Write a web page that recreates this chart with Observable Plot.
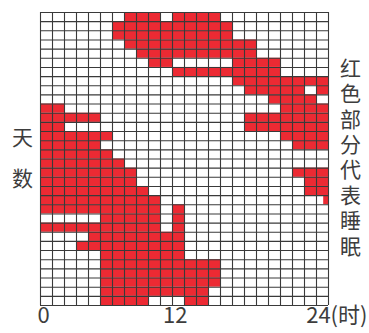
<!DOCTYPE html>
<html><head><meta charset="utf-8">
<script src="https://cdn.jsdelivr.net/npm/d3@7"></script>
<script src="https://cdn.jsdelivr.net/npm/@observablehq/plot@0.6"></script>
<style>body{margin:0;background:#fff;}</style>
</head><body><div id="chart"></div>
<script>
// Sleep segments: day (row), start hour, end hour
const segDay   = [0,0, 1, 2, 3, 4, 5,5, 6, 7, 8,8, 9, 10,10, 11,11, 12,12, 13,13, 14,14, 15, 16, 17,17, 18,18, 19,19, 20,20, 21,21, 22,22, 23,23, 24, 25, 26, 27, 28, 29, 30, 31,31];
const segStart = [7,11, 6, 6, 7, 8, 9,16, 11,16,17,23, 19, 0,20, 0,17, 0,17, 0,20, 0,21, 0, 0, 0,21, 0,22, 0,22, 0,23.6, 0,11, 5,11, 0,11, 4, 3, 5, 5, 5, 5, 5, 5,12];
const segEnd   = [10,15, 16, 16, 18, 18, 11,20, 20,24,22,24, 23, 2,24, 5,24, 2,24, 6,24, 5,24, 6, 7, 8,24, 8,24, 9,24, 10,24, 10,12, 10,12, 10,12, 12, 12, 12, 15, 15, 15, 14, 9,14];
const hours = 24;
const days = 32;
const xTickValues = [0, 12, 24];
const xTickLabels = ["0", "12", "24(时)"];
const yLabel = "天数";
const noteLabel = "红色部分代表睡眠";

const segments = segDay.map((d, i) => ({day: d, start: segStart[i], end: segEnd[i]}));
const textColor = "#3d3d3d";
const font = "'Noto Sans CJK SC', 'Noto Sans', sans-serif";

const chart = Plot.plot({
  width: 369, height: 333,
  marginLeft: 40, marginRight: 41, marginTop: 12, marginBottom: 28,
  x: {domain: [0, hours], axis: null},
  y: {domain: [0, days], reverse: true, axis: null},
  style: {fontFamily: font, background: "#fff"},
  marks: [
    Plot.rect(segments, {x1: "start", x2: "end", y1: "day", y2: d => d.day + 1, fill: "#ec2a33"}),
    Plot.ruleX(d3.range(hours + 1), {y1: 0, y2: days, stroke: "#3a3a3a", strokeWidth: 1.1}),
    Plot.ruleY(d3.range(days + 1), {x1: 0, x2: hours, stroke: "#3a3a3a", strokeWidth: 1.1}),
    Plot.text([xTickLabels[0]], {x: xTickValues[0], frameAnchor: "bottom", dy: 17, dx: -3, textAnchor: "start", fontSize: 22, fill: textColor}),
    Plot.text([xTickLabels[1]], {x: xTickValues[1], frameAnchor: "bottom", dy: 17, dx: 3, textAnchor: "end", fontSize: 22, fill: textColor}),
    Plot.text([xTickLabels[2]], {x: xTickValues[2], frameAnchor: "bottom", dy: 17, dx: 39, textAnchor: "end", fontSize: 22, fill: textColor}),
    Plot.text([yLabel], {frameAnchor: "left", dx: -18, dy: -7, textAnchor: "middle", text: d => d.split("").join("\n"), lineHeight: 1.95, fontSize: 21, fill: textColor}),
    Plot.text([noteLabel], {frameAnchor: "right", dx: 22, dy: -2.5, textAnchor: "middle", text: d => d.split("").join("\n"), lineHeight: 1.21, fontSize: 21, fill: textColor})
  ]
});
document.getElementById("chart").appendChild(chart);
</script>
</body></html>
